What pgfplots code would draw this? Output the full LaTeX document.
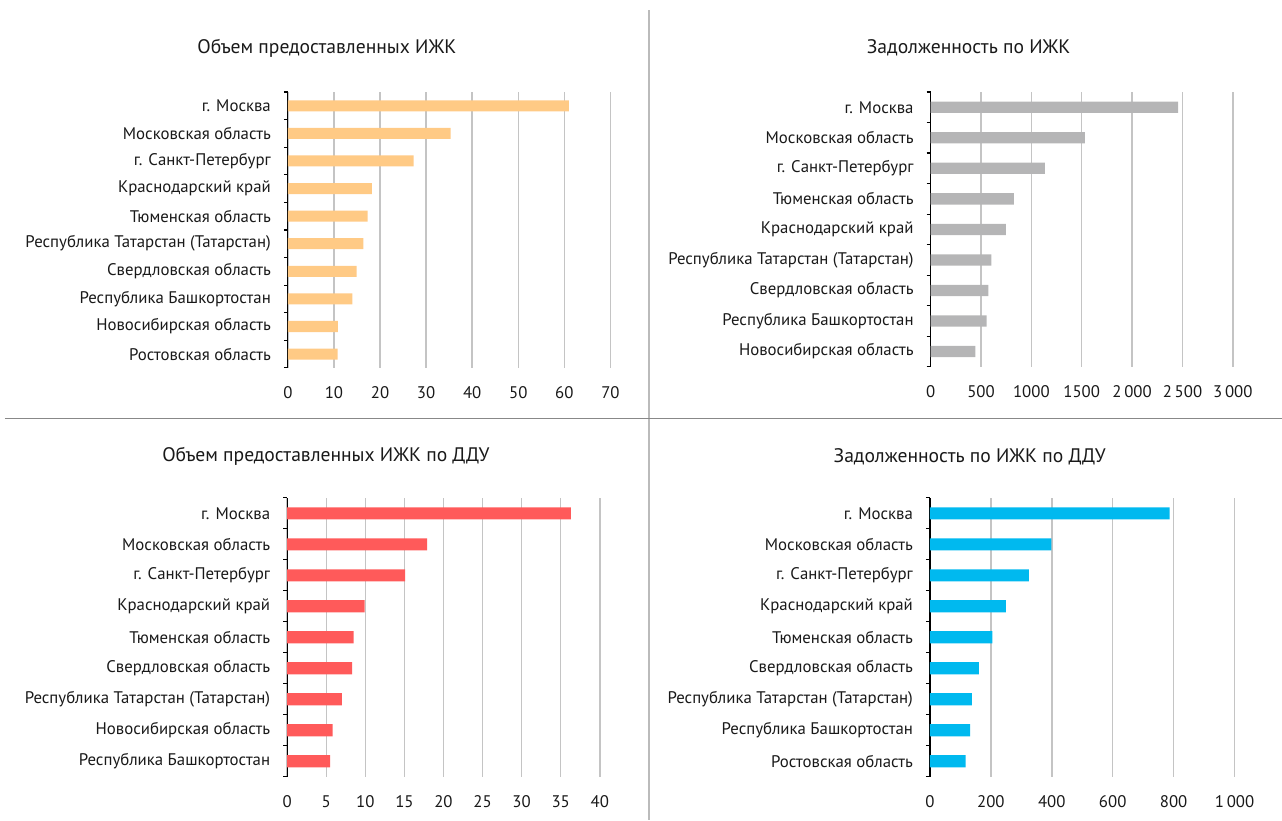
\documentclass[border=0pt]{standalone}
\usepackage{fontspec}
\setmainfont{PT Sans}
\usepackage{pgfplots}
\pgfplotsset{compat=1.18}
\definecolor{cOr}{HTML}{FFCA85}
\definecolor{cGr}{HTML}{B5B5B6}
\definecolor{cRd}{HTML}{FF5A5A}
\definecolor{cBl}{HTML}{00B9EF}
\definecolor{gridc}{HTML}{C4C4C4}
\pgfplotsset{
 panel/.style={
  scale only axis, xbar, anchor=north west,
  axis x line*=bottom, axis y line*=left,
  x axis line style={draw=none},
  y axis line style={black, line width=0.6pt, -},
  xmin=0, ymin=0.5,
  xmajorgrids, grid style={color=gridc, line width=0.75pt},
  xtick style={draw=none},
  ytick style={black, line width=0.6pt},
  tick align=outside, major tick length=2pt,
  y tick label as interval,
  ticklabel style={font=\fontsize{8.4}{10}\selectfont, text=black!90},
  xticklabel style={yshift=-4pt},
  yticklabel style={xshift=-3pt},
  /pgf/number format/assume math mode=true,
  clip=false,
 }
}
\begin{document}
\begin{tikzpicture}
\path (0,0) rectangle (641pt,-410pt);
\draw[color={rgb,255:red,187;green,187;blue,187}, line width=1pt] (324.5pt,-5pt) -- (324.5pt,-410pt);
\draw[color={rgb,255:red,136;green,136;blue,136}, line width=0.5pt] (2.5pt,-209.5pt) -- (641pt,-209.5pt);
\tikzset{ttl/.style={font=\fontsize{9.8}{12}\selectfont, text=black!90}}
\node[ttl] at (163.5pt,-24pt) {Объем предоставленных ИЖК};
\node[ttl] at (484.5pt,-24pt) {Задолженность по ИЖК};
\node[ttl] at (163pt,-228.5pt) {Объем предоставленных ИЖК по ДДУ};
\node[ttl] at (485pt,-228.5pt) {Задолженность по ИЖК по ДДУ};

% Panel 1
\begin{axis}[panel, at={(144pt,-46pt)}, width=161.35pt, height=138pt,
  xmax=70, ymax=10.5, bar width=0.4,
  xtick={0,10,...,70}, xticklabels={0,10,20,30,40,50,60,70},
  ytick={0.5,1.5,...,10.5},
  yticklabels={Ростовская область,Новосибирская область,Республика Башкортостан,Свердловская область,Республика Татарстан (Татарстан),Тюменская область,Краснодарский край,г. Санкт-Петербург,Московская область,г. Москва}]
\addplot[fill=cOr, draw=none] coordinates {(10.8,1) (10.85,2) (14.0,3) (14.9,4) (16.4,5) (17.3,6) (18.2,7) (27.3,8) (35.3,9) (61.0,10)};
\end{axis}

% Panel 2
\begin{axis}[panel, at={(465.5pt,-46pt)}, width=151.15pt, height=137.5pt,
  xmax=3000, ymax=9.5, bar width=0.37,
  xtick={0,500,...,3000}, xticklabels={0,500,1000,1500,2\,000,2\,500,3\,000},
  ytick={0.5,1.5,...,9.5},
  yticklabels={Новосибирская область,Республика Башкортостан,Свердловская область,Республика Татарстан (Татарстан),Краснодарский край,Тюменская область,г. Санкт-Петербург,Московская область,г. Москва}]
\addplot[fill=cGr, draw=none] coordinates {(443,1) (556,2) (572,3) (602,4) (747,5) (827,6) (1134,7) (1531,8) (2457,9)};
\end{axis}

% Panel 3
\begin{axis}[panel, at={(143.65pt,-249pt)}, width=156.35pt, height=139.5pt,
  xmax=40, ymax=9.5, bar width=0.39,
  xtick={0,5,...,40}, xticklabels={0,5,10,15,20,25,30,35,40},
  ytick={0.5,1.5,...,9.5},
  yticklabels={Республика Башкортостан,Новосибирская область,Республика Татарстан (Татарстан),Свердловская область,Тюменская область,Краснодарский край,г. Санкт-Петербург,Московская область,г. Москва}]
\addplot[fill=cRd, draw=none] coordinates {(5.5,1) (5.8,2) (7.0,3) (8.3,4) (8.5,5) (9.9,6) (15.1,7) (17.9,8) (36.3,9)};
\end{axis}

% Panel 4
\begin{axis}[panel, at={(465.15pt,-249pt)}, width=152.35pt, height=139.5pt,
  xmax=1000, ymax=9.5, bar width=0.39,
  xtick={0,200,...,1000}, xticklabels={0,200,400,600,800,1\,000},
  ytick={0.5,1.5,...,9.5},
  yticklabels={Ростовская область,Республика Башкортостан,Республика Татарстан (Татарстан),Свердловская область,Тюменская область,Краснодарский край,г. Санкт-Петербург,Московская область,г. Москва}]
\addplot[fill=cBl, draw=none] coordinates {(117,1) (132,2) (138,3) (161,4) (205,5) (249,6) (325,7) (399,8) (787,9)};
\end{axis}
\end{tikzpicture}
\end{document}
